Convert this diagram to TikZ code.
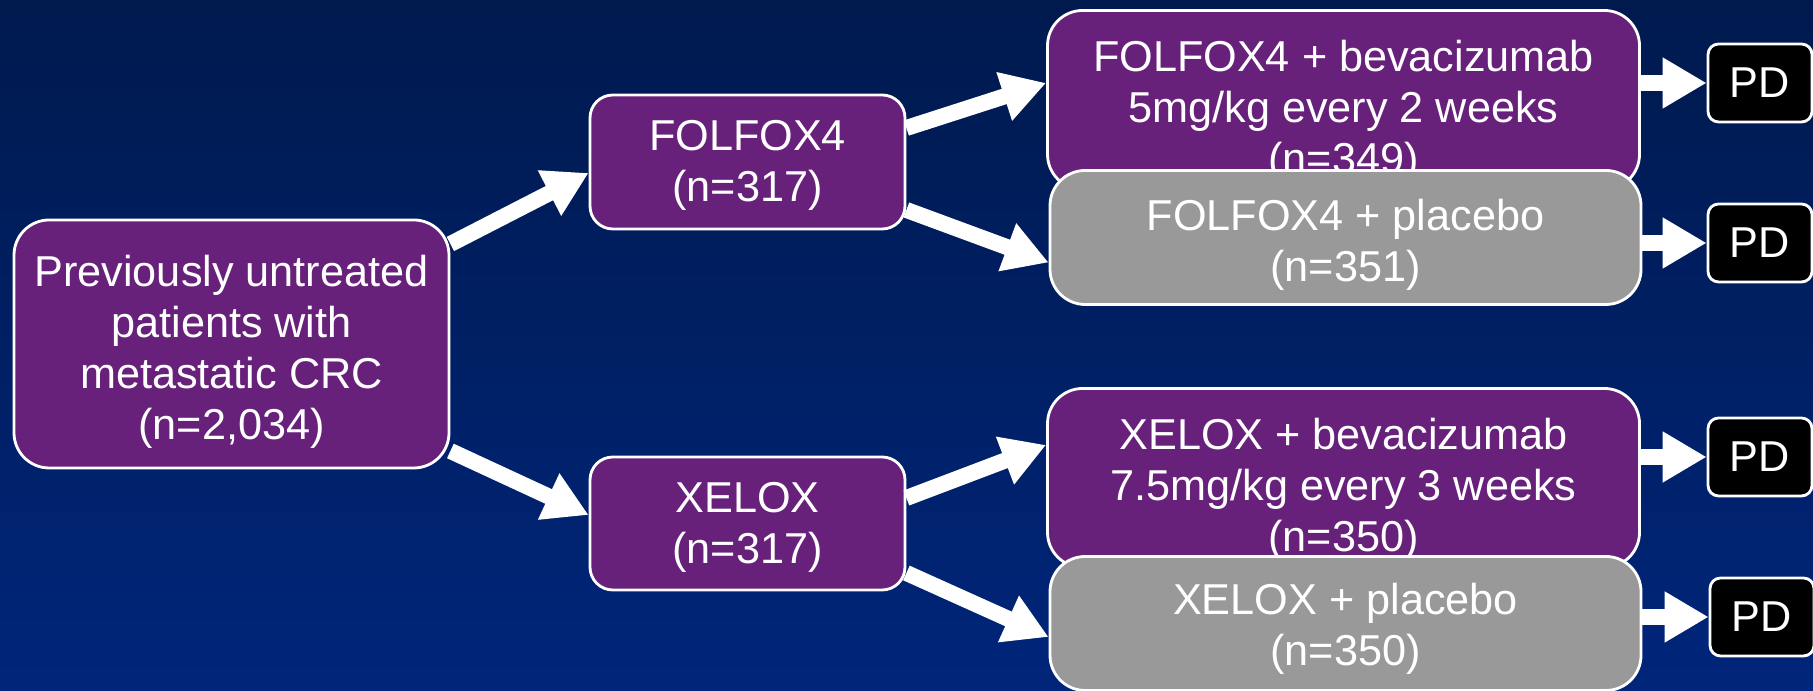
\documentclass[tikz,border=0pt]{standalone}
\usepackage{fontspec}
\setmainfont{Liberation Sans}
\usetikzlibrary{arrows.meta}

\definecolor{navytop}{RGB}{0,26,78}
\definecolor{navybottom}{RGB}{0,37,122}
\definecolor{armpurple}{RGB}{104,33,122}
\definecolor{armgrey}{RGB}{153,153,153}

% extra room above the first line, pushes a box's text down
\newcommand{\padtop}[1]{\rule{0pt}{#1}}

\begin{document}
\begin{tikzpicture}[
    box/.style={draw=white, line width=0.8pt, fill=armpurple, text=white,
                align=center, font=\fontsize{12.3}{14.5}\selectfont,
                rounded corners=6.5pt, inner sep=0pt},
    armbox/.style={box, minimum width=5.92cm, minimum height=1.79cm,
                rounded corners=10pt},
    placebo/.style={box, fill=armgrey, minimum width=5.91cm,
                minimum height=1.34cm, rounded corners=10pt},
    pd/.style={box, fill=black, minimum width=1.04cm, minimum height=0.78cm,
                rounded corners=3pt},
    fat/.style={white, line width=0.16cm,
                -{Triangle[length=0.44cm, width=0.48cm]}},
]

% Background
\shade[top color=navytop, bottom color=navybottom] (0,0) rectangle (18.13,6.91);
\useasboundingbox (0,0) rectangle (18.13,6.91);

% Nodes
\node[box, minimum width=4.35cm, minimum height=2.48cm, rounded corners=10pt]
    (root) at (2.315,3.47) {\padtop{13.6pt}Previously untreated\\patients with\\metastatic CRC\\(n=2,034)};
\node[box, minimum width=3.15cm, minimum height=1.34cm] (folfox) at (7.475,5.29) {\padtop{10.6pt}FOLFOX4\\(n=317)};
\node[box, minimum width=3.15cm, minimum height=1.33cm] (xelox)  at (7.475,1.675) {\padtop{10.6pt}XELOX\\(n=317)};

\node[armbox]  (folfoxBev)  at (13.435,5.91) {\padtop{15.4pt}FOLFOX4 + bevacizumab\\5mg/kg every 2 weeks\\(n=349)};
\node[placebo] (folfoxPlac) at (13.455,4.535) {\padtop{13pt}FOLFOX4 + placebo\\(n=351)};
\node[armbox]  (xeloxBev)   at (13.435,2.13) {\padtop{15.4pt}XELOX + bevacizumab\\7.5mg/kg every 3 weeks\\(n=350)};
\node[placebo] (xeloxPlac)  at (13.455,0.675) {\padtop{12pt}XELOX + placebo\\(n=350)};

\node[pd] (pd1) at (17.60,6.08) {PD};
\node[pd] (pd2) at (17.60,4.48) {PD};
\node[pd] (pd3) at (17.60,2.34) {PD};
\node[pd] (pd4) at (17.62,0.74) {PD};

% Randomisation arrows
\draw[fat] ([yshift=1.0cm]root.east)    -- ([yshift=-0.11cm]folfox.west);
\draw[fat] ([yshift=-1.07cm]root.east)  -- ([yshift=0.085cm]xelox.west);
\draw[fat] ([yshift=0.34cm]folfox.east) -- ([yshift=0.17cm]folfoxBev.west);
\draw[fat] ([yshift=-0.48cm]folfox.east) -- ([yshift=-0.25cm]folfoxPlac.west);
\draw[fat] ([yshift=0.255cm]xelox.east) -- ([yshift=0.33cm]xeloxBev.west);
\draw[fat] ([yshift=-0.495cm]xelox.east) -- ([yshift=-0.135cm]xeloxPlac.west);

% Progression arrows
\draw[fat] (folfoxBev.east |- pd1.west)  -- (pd1.west);
\draw[fat] (folfoxPlac.east |- pd2.west) -- (pd2.west);
\draw[fat] (xeloxBev.east |- pd3.west)   -- (pd3.west);
\draw[fat] (xeloxPlac.east |- pd4.west)  -- (pd4.west);

\end{tikzpicture}
\end{document}
